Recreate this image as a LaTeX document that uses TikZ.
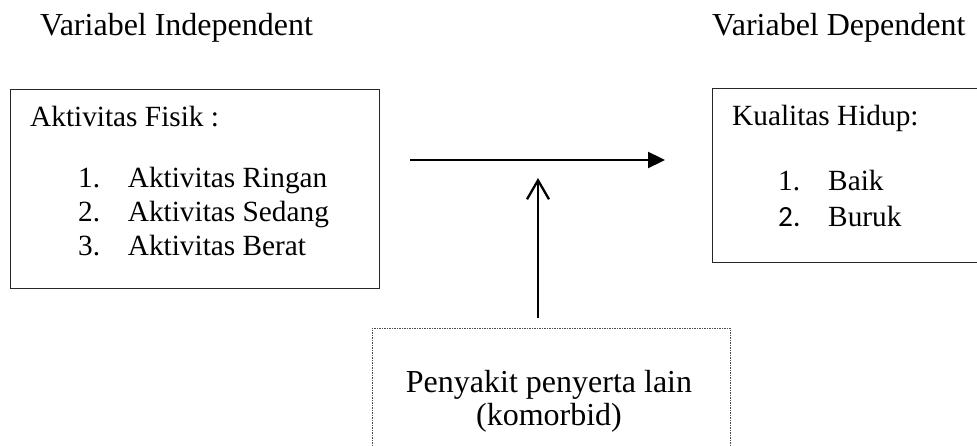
\documentclass[tikz,border=0pt]{standalone}
\usepackage{fontspec}
\setmainfont{Liberation Serif}
\newfontfamily\calib{Carlito}
\usetikzlibrary{arrows.meta}
\begin{document}
\begin{tikzpicture}[x=1pt,y=-1pt,
  hdr/.style={anchor=base west, inner sep=0pt, font=\fontsize{32}{38}\selectfont},
  txt/.style={anchor=base west, inner sep=0pt, font=\fontsize{29.3}{35}\selectfont},
  ctr/.style={anchor=base, inner sep=0pt, font=\fontsize{32}{38}\selectfont},
  frame/.style={draw=black!85, line width=1.3pt, inner sep=0pt, anchor=north west},
  dotbox/.style={draw=black!70, line width=0.9pt, dash pattern=on 1.5pt off 1pt, inner sep=0pt, anchor=north west},
  flow/.style={line width=2.3pt, -{Triangle[length=17pt,width=16pt]}},
  infl/.style={line width=2.3pt, -{Straight Barb[length=19pt,width=22pt]}}]
\useasboundingbox (0,0) rectangle (977,446);
% headers
\node[hdr] (hind) at (40,36) {Variabel Independent};
\node[hdr] (hdep) at (712,36) {Variabel Dependent};
% boxes
\node[frame, minimum width=369pt, minimum height=199pt] (lbox) at (10,89) {};
\node[frame, minimum width=290pt, minimum height=174pt] (rbox) at (712,88) {};
\node[dotbox, minimum width=358pt, minimum height=150pt] (bbox) at (372,328) {};
% left box text
\node[txt] (lt) at (30,126.5) {Aktivitas Fisik :};
\node[txt] (n1) at (78,188) {1.};
\node[txt] (l1) at (127.7,188) {Aktivitas Ringan};
\node[txt] (n2) at (78,222) {2.};
\node[txt] (l2) at (127.7,222) {Aktivitas Sedang};
\node[txt] (n3) at (78,256) {3.};
\node[txt] (l3) at (127.7,256) {Aktivitas Berat};
% right box text
\node[txt] (rt) at (732,125.5) {Kualitas Hidup:};
\node[txt] (m1) at (778,191) {1.};
\node[txt] (r1) at (828,191) {Baik};
\node[txt, font=\fontsize{29.3}{35}\calib] (m2) at (778,227) {2.};
\node[txt] (r2) at (828,227) {Buruk};
% bottom box text
\node[ctr] (b1) at (549,392) {Penyakit penyerta lain};
\node[ctr] (b2) at (549,425) {(komorbid)};
% arrows
\coordinate (h1) at (410,160);
\coordinate (h2) at (665,160);
\coordinate (v1) at (538,318);
\coordinate (v2) at (538,178);
\draw[flow] (h1) -- (h2);
\draw[infl] (v1) -- (v2);
\end{tikzpicture}
\end{document}
